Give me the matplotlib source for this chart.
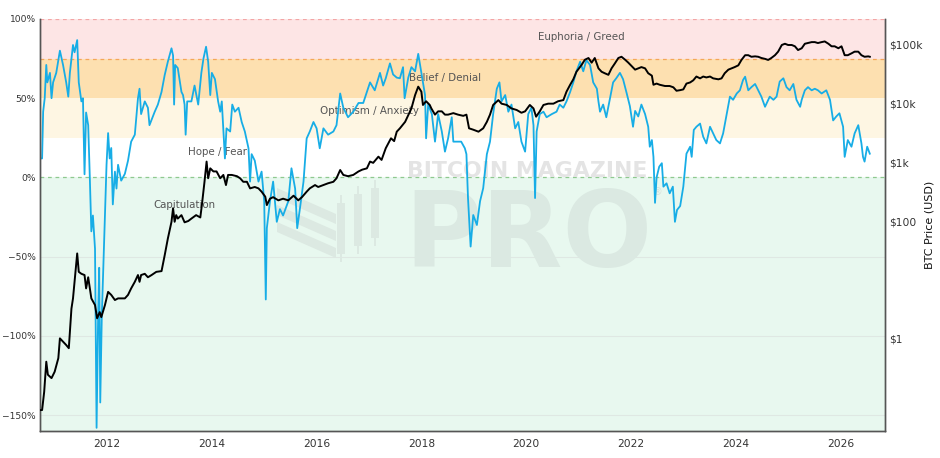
import matplotlib
matplotlib.use("Agg")
import matplotlib.pyplot as plt
from matplotlib.ticker import FixedLocator, FuncFormatter, NullLocator
from matplotlib.patches import Polygon, Rectangle

# ---------------- data ----------------
nupl_year = [2010.72, 2010.76, 2010.78, 2010.81, 2010.84, 2010.86, 2010.91, 2010.94, 2010.97, 2011.03,
             2011.10, 2011.16, 2011.22, 2011.26, 2011.29, 2011.35, 2011.38, 2011.43, 2011.46, 2011.51,
             2011.54, 2011.57, 2011.60, 2011.64, 2011.67, 2011.70, 2011.73, 2011.77, 2011.80, 2011.83,
             2011.85, 2011.87, 2011.90, 2011.96, 2011.99, 2012.02, 2012.05, 2012.08, 2012.11, 2012.15,
             2012.18, 2012.21, 2012.27, 2012.34, 2012.40, 2012.46, 2012.53, 2012.59, 2012.62, 2012.65,
             2012.72, 2012.78, 2012.81, 2012.91, 2012.97, 2013.04, 2013.10, 2013.16, 2013.23, 2013.26,
             2013.28, 2013.30, 2013.35, 2013.42, 2013.45, 2013.48, 2013.50, 2013.53, 2013.61, 2013.67,
             2013.74, 2013.80, 2013.84, 2013.89, 2013.93, 2013.97, 2014.00, 2014.06, 2014.12, 2014.16,
             2014.19, 2014.25, 2014.28, 2014.35, 2014.39, 2014.44, 2014.51, 2014.57, 2014.63, 2014.70,
             2014.73, 2014.76, 2014.82, 2014.89, 2014.95, 2015.00, 2015.03, 2015.05, 2015.11, 2015.17,
             2015.24, 2015.30, 2015.36, 2015.46, 2015.52, 2015.59, 2015.63, 2015.68, 2015.75, 2015.81,
             2015.87, 2015.94, 2016.00, 2016.06, 2016.13, 2016.22, 2016.32, 2016.38, 2016.45, 2016.51,
             2016.60, 2016.70, 2016.80, 2016.89, 2016.96, 2017.02, 2017.11, 2017.21, 2017.27, 2017.32,
             2017.40, 2017.46, 2017.53, 2017.59, 2017.65, 2017.68, 2017.75, 2017.81, 2017.88, 2017.94,
             2018.00, 2018.07, 2018.09, 2018.13, 2018.20, 2018.26, 2018.32, 2018.39, 2018.45, 2018.51,
             2018.58, 2018.61, 2018.67, 2018.76, 2018.83, 2018.86, 2018.89, 2018.94, 2018.99, 2019.06,
             2019.12, 2019.18, 2019.25, 2019.31, 2019.37, 2019.44, 2019.49, 2019.53, 2019.60, 2019.66,
             2019.72, 2019.79, 2019.85, 2019.91, 2019.98, 2020.04, 2020.10, 2020.14, 2020.17, 2020.20,
             2020.26, 2020.33, 2020.39, 2020.49, 2020.58, 2020.64, 2020.71, 2020.77, 2020.84, 2020.90,
             2020.96, 2021.03, 2021.09, 2021.15, 2021.22, 2021.28, 2021.35, 2021.38, 2021.41, 2021.47,
             2021.53, 2021.60, 2021.66, 2021.72, 2021.79, 2021.85, 2021.92, 2021.98, 2022.04, 2022.08,
             2022.14, 2022.20, 2022.27, 2022.33, 2022.36, 2022.40, 2022.43, 2022.46, 2022.49, 2022.54,
             2022.59, 2022.62, 2022.68, 2022.74, 2022.80, 2022.84, 2022.88, 2022.94, 2023.00, 2023.06,
             2023.13, 2023.16, 2023.20, 2023.25, 2023.32, 2023.38, 2023.44, 2023.51, 2023.57, 2023.63,
             2023.70, 2023.76, 2023.83, 2023.89, 2023.95, 2024.02, 2024.08, 2024.14, 2024.18, 2024.24,
             2024.30, 2024.37, 2024.43, 2024.49, 2024.56, 2024.59, 2024.65, 2024.72, 2024.78, 2024.84,
             2024.91, 2024.97, 2025.03, 2025.10, 2025.16, 2025.23, 2025.26, 2025.32, 2025.38, 2025.45,
             2025.51, 2025.57, 2025.64, 2025.73, 2025.80, 2025.86, 2025.92, 2025.98, 2026.05, 2026.08,
             2026.14, 2026.21, 2026.27, 2026.34, 2026.40, 2026.43, 2026.46, 2026.51, 2026.56]
nupl_pct = [12, 12, 41.5, 50, 71, 60, 66, 50, 60, 66,
            80, 71, 60, 51, 66, 83.6, 79, 86.7, 60, 48,
            50, 2, 41, 33, 1, -34, -24, -45, -158, -87,
            -57, -142, -87, -24, 8, 28, 12, 18.6, -17, 3.7,
            -7, 8, -2, 2.3, 10.6, 22.6, 27, 50, 56, 40,
            48, 44, 33, 41.5, 46, 54, 64.6, 73, 81.5, 77,
            46, 71, 69, 54, 52, 46, 27, 48, 48, 58,
            46, 66, 75, 82.5, 73, 52, 66, 62, 48, 41.5,
            48, 12, 31, 29, 46, 41.5, 44, 35, 29, 18.4,
            -2.6, 14.7, 10.6, -2.6, 3.7, -15, -77, -32, -15, -2.6,
            -28, -20, -24, -15, 5.8, -7, -32, -20, -2.6, 24.6,
            29, 35, 31, 18.4, 31, 27, 29, 33, 53, 44,
            38, 41.5, 47, 47, 54, 60, 55, 66, 58, 62.6,
            72, 65, 63, 62.6, 69.6, 50, 63, 69.6, 67, 78,
            66, 52, 24.7, 46, 40, 22.6, 40, 29, 16.3, 24.7,
            38, 22.6, 22.6, 22.6, 18.4, 14.7, -13, -43.6, -23.7, -30,
            -15, -6.8, 14.7, 22.6, 40, 56, 60, 48, 52, 41.5,
            46, 31, 35, 22.6, 16.3, 40, 44, 33, -13, 29,
            40, 41.5, 38, 40, 41.5, 46, 44, 48, 54, 60,
            67, 73, 67, 74, 71, 60, 56, 48, 41.5, 46,
            38, 50, 60, 62.6, 66, 62, 53, 45, 32, 42,
            38.5, 46, 40, 32, 19.4, 23.6, 13, -16, 0, 6.8,
            9, -5.8, -3.7, -10, -5.8, -28, -20.5, -18, -5.8, 15,
            19.4, 13, 30, 32, 34, 25.7, 21.5, 32, 27.8, 23.6,
            21.5, 27.8, 40.5, 51, 49, 53, 55, 61.5, 63.6, 55,
            57, 59, 55, 51, 44.6, 46.7, 51, 49, 51, 60.5,
            62.6, 57, 55, 59, 49, 44.6, 49, 55, 57, 55,
            56, 55, 53, 55, 49, 36, 38.5, 40.5, 32, 13,
            23.6, 19.4, 27.8, 33, 21.5, 13, 10, 19.4, 15]

price_year = [2010.72, 2010.76, 2010.80, 2010.84, 2010.87, 2010.94, 2011.00, 2011.07, 2011.10, 2011.16,
              2011.22, 2011.27, 2011.32, 2011.35, 2011.38, 2011.43, 2011.46, 2011.51, 2011.57, 2011.60,
              2011.64, 2011.70, 2011.77, 2011.81, 2011.86, 2011.89, 2011.96, 2012.02, 2012.08, 2012.15,
              2012.21, 2012.34, 2012.40, 2012.46, 2012.53, 2012.59, 2012.62, 2012.65, 2012.72, 2012.78,
              2012.85, 2012.94, 2013.04, 2013.10, 2013.16, 2013.23, 2013.26, 2013.29, 2013.32, 2013.35,
              2013.42, 2013.48, 2013.55, 2013.61, 2013.70, 2013.78, 2013.81, 2013.86, 2013.90, 2013.93,
              2013.97, 2014.03, 2014.09, 2014.16, 2014.22, 2014.27, 2014.31, 2014.38, 2014.48, 2014.54,
              2014.60, 2014.67, 2014.73, 2014.82, 2014.89, 2014.95, 2015.02, 2015.05, 2015.11, 2015.17,
              2015.27, 2015.36, 2015.46, 2015.56, 2015.65, 2015.72, 2015.81, 2015.87, 2015.97, 2016.03,
              2016.13, 2016.22, 2016.32, 2016.38, 2016.45, 2016.51, 2016.60, 2016.70, 2016.80, 2016.87,
              2016.96, 2017.02, 2017.08, 2017.18, 2017.24, 2017.32, 2017.42, 2017.48, 2017.53, 2017.59,
              2017.69, 2017.75, 2017.81, 2017.88, 2017.94, 2018.00, 2018.03, 2018.09, 2018.16, 2018.19,
              2018.26, 2018.32, 2018.39, 2018.45, 2018.51, 2018.61, 2018.70, 2018.80, 2018.86, 2018.91,
              2018.99, 2019.09, 2019.18, 2019.25, 2019.31, 2019.37, 2019.47, 2019.53, 2019.63, 2019.72,
              2019.82, 2019.91, 2019.98, 2020.07, 2020.14, 2020.19, 2020.26, 2020.33, 2020.42, 2020.52,
              2020.61, 2020.71, 2020.77, 2020.84, 2020.90, 2020.96, 2021.06, 2021.12, 2021.19, 2021.25,
              2021.31, 2021.38, 2021.44, 2021.50, 2021.57, 2021.63, 2021.69, 2021.76, 2021.82, 2021.89,
              2021.95, 2022.01, 2022.08, 2022.14, 2022.20, 2022.27, 2022.33, 2022.40, 2022.43, 2022.49,
              2022.55, 2022.65, 2022.74, 2022.81, 2022.87, 2022.94, 2023.00, 2023.06, 2023.13, 2023.19,
              2023.25, 2023.32, 2023.38, 2023.44, 2023.51, 2023.57, 2023.67, 2023.73, 2023.79, 2023.86,
              2023.92, 2023.98, 2024.05, 2024.11, 2024.18, 2024.24, 2024.30, 2024.37, 2024.43, 2024.49,
              2024.56, 2024.62, 2024.68, 2024.75, 2024.81, 2024.88, 2024.94, 2025.00, 2025.07, 2025.13,
              2025.19, 2025.26, 2025.32, 2025.38, 2025.45, 2025.51, 2025.57, 2025.64, 2025.70, 2025.77,
              2025.83, 2025.89, 2025.96, 2026.02, 2026.08, 2026.14, 2026.21, 2026.27, 2026.34, 2026.40,
              2026.46, 2026.53, 2026.56]
price_usd = [0.06, 0.06, 0.123, 0.40, 0.24, 0.21, 0.27, 0.46, 1.0, 0.88,
             0.77, 0.68, 3.2, 4.8, 9.2, 28, 13.6, 12.6, 12, 7.1,
             11, 4.8, 3.7, 2.2, 2.8, 2.3, 3.7, 6.2, 5.5, 4.5,
             4.8, 4.8, 5.5, 7.1, 9.2, 12, 9.2, 12, 12.6, 11,
             12, 13.6, 14, 26, 50, 97, 165, 97, 126, 110,
             126, 95, 100, 110, 126, 115, 187, 466, 1030, 535,
             790, 700, 700, 535, 610, 410, 610, 610, 580, 535,
             466, 466, 360, 380, 360, 316, 260, 187, 240, 255,
             225, 240, 225, 270, 225, 255, 316, 360, 410, 380,
             410, 440, 466, 535, 740, 610, 580, 610, 700, 750,
             790, 1030, 980, 1250, 1100, 1740, 2570, 2300, 3330, 3800,
             4900, 6400, 8300, 14000, 19500, 16000, 9500, 11000, 9500, 8300,
             6500, 7400, 7400, 6500, 6500, 6900, 6500, 6200, 6500, 3800,
             3600, 3330, 3800, 4900, 6500, 9500, 11500, 10000, 9500, 8300,
             7800, 7000, 7400, 9500, 8300, 6000, 7400, 9500, 10000, 10000,
             11000, 11500, 16000, 21000, 26000, 35000, 46000, 56000, 60000, 50000,
             60000, 40000, 35000, 33000, 31000, 40000, 48000, 60000, 63000, 56000,
             50000, 44000, 38000, 40000, 42000, 40000, 33000, 30000, 21000, 22000,
             21000, 20000, 20000, 19000, 16600, 17000, 17500, 22000, 23000, 25000,
             29000, 27000, 29000, 28000, 29000, 27000, 26000, 27000, 33000, 38000,
             40000, 42000, 45000, 55600, 67000, 67000, 63000, 64000, 63000, 60000,
             58000, 55600, 60000, 67000, 77000, 100000, 105000, 100000, 100000, 95000,
             82000, 88000, 105000, 108000, 112000, 112000, 108000, 112000, 115000, 105000,
             95000, 95000, 88000, 95000, 67000, 67000, 72000, 77000, 77000, 67000,
             63000, 64000, 63000]

year_ticks = [2012, 2014, 2016, 2018, 2020, 2022, 2024, 2026]
pct_ticks = [-150, -100, -50, 0, 50, 100]
price_ticks = [1, 100, 1000, 10000, 100000]
price_tick_labels = ["$1", "$100", "$1k", "$10k", "$100k"]

zone_names = ["Euphoria / Greed", "Belief / Denial", "Optimism / Anxiety", "Hope / Fear", "Capitulation"]
zone_lows = [75, 50, 25, 0, -160]
zone_highs = [100, 75, 50, 25, 0]
zone_label_year = [2021.06, 2018.45, 2017.01, 2014.11, 2013.48]
zone_label_pct = [88.6, 63.0, 41.8, 16.3, -17.4]

# ---------------- figure ----------------
W, H = 940, 458
fig = plt.figure(figsize=(W / 100, H / 100), dpi=100)
ax = fig.add_axes([40 / W, 1 - 431 / H, (885 - 40) / W, (431 - 19) / H])

zone_colors = ["#fde5e5", "#fde0b0", "#fef6e3", "#ffffff", "#e8f8ef"]
for lo, hi, c in zip(zone_lows, zone_highs, zone_colors):
    ax.axhspan(lo, hi, color=c, zorder=0, lw=0)

for y in [-150, -100, -50]:
    ax.axhline(y, color="#dfe8e3", lw=0.8, zorder=0.5)
ax.axhline(100, color="#f3a6a6", lw=0.9, ls=(0, (3, 3)), zorder=0.6)
ax.axhline(75, color="#f5a55a", lw=0.9, ls=(0, (3, 3)), zorder=0.6)
ax.axhline(0, color="#8fc98f", lw=0.9, ls=(0, (3, 3)), zorder=0.6)

# watermark (decoration, placed in figure pixels, drawn above the bands)
def fp(x, y):
    return (x / W, 1 - y / H)

wm = "#dce9e2"
tf = fig.transFigure
for i in range(3):
    dy = 17 * i
    ax.add_patch(Polygon([fp(277, 188 + dy), fp(336, 214 + dy), fp(336, 224 + dy), fp(277, 198 + dy)],
                         closed=True, transform=tf, facecolor=wm, edgecolor="none", zorder=0.8))
for cx, top, bot in [(341, 195, 262), (358, 186, 254), (375, 180, 246)]:
    ax.add_patch(Rectangle(fp(cx - 4, bot - 8), 8 / W, (bot - top - 16) / H, transform=tf,
                           facecolor=wm, edgecolor="none", zorder=0.8))
    ax.add_patch(Rectangle(fp(cx - 1, bot), 2 / W, (bot - top) / H, transform=tf,
                           facecolor=wm, edgecolor="none", zorder=0.8))

ax.text(527 / W, 1 - 177 / H, "BITCOIN MAGAZINE", transform=tf, ha="center", va="baseline",
        fontsize=15.8, fontweight="bold", color="#e4e4e4", zorder=0.9)
ax.text(528 / W, 1 - 267 / H, "PRO", transform=tf, ha="center", va="baseline",
        fontsize=76, fontweight="bold", color="#dbe9e2", zorder=0.9)
ax.text(657 / W, 1 - 192 / H, "\u00ae", transform=tf, ha="center", va="center",
        fontsize=7, color="#d6e0db", zorder=0.9)

for name, xx, yy in zip(zone_names, zone_label_year, zone_label_pct):
    ax.text(xx, yy, name, ha="center", va="center", fontsize=7.4, color="#555555", zorder=1)

ax.plot(nupl_year, nupl_pct, color="#17ade6", lw=1.3, zorder=2)

ax.set_xlim(2010.72, 2026.85)
ax.set_ylim(-160, 100)
ax.xaxis.set_major_locator(FixedLocator(year_ticks))
ax.xaxis.set_major_formatter(FuncFormatter(lambda v, p: f"{int(round(v))}"))
ax.yaxis.set_major_locator(FixedLocator(pct_ticks))
ax.yaxis.set_major_formatter(FuncFormatter(lambda v, p: f"{int(v)}%".replace("-", "\u2212")))
ax.tick_params(axis="y", length=0, labelsize=6.6, labelcolor="#333333", pad=3)
ax.tick_params(axis="x", length=0, labelsize=7.7, labelcolor="#333333", pad=6)

ax2 = ax.twinx()
ax2.plot(price_year, price_usd, color="#000000", lw=1.4, zorder=3)
ax2.set_yscale("log")
ax2.set_ylim(10 ** -1.579, 10 ** 5.443)
ax2.yaxis.set_major_locator(FixedLocator(price_ticks))
ax2.yaxis.set_major_formatter(FuncFormatter(lambda v, p: dict(zip(price_ticks, price_tick_labels)).get(int(round(v)), "")))
ax2.yaxis.set_minor_locator(NullLocator())
ax2.tick_params(axis="y", length=0, labelsize=7.7, labelcolor="#333333", pad=3)
ax2.set_ylabel("BTC Price (USD)", fontsize=8, color="#111111")
ax2.yaxis.set_label_coords(1.047, 0.5)

for a in (ax, ax2):
    a.spines["top"].set_visible(False)
    for s in ("left", "right", "bottom"):
        a.spines[s].set_color("#555555")
        a.spines[s].set_linewidth(1.0)

fig.savefig("out.png", dpi=100, facecolor="white")
